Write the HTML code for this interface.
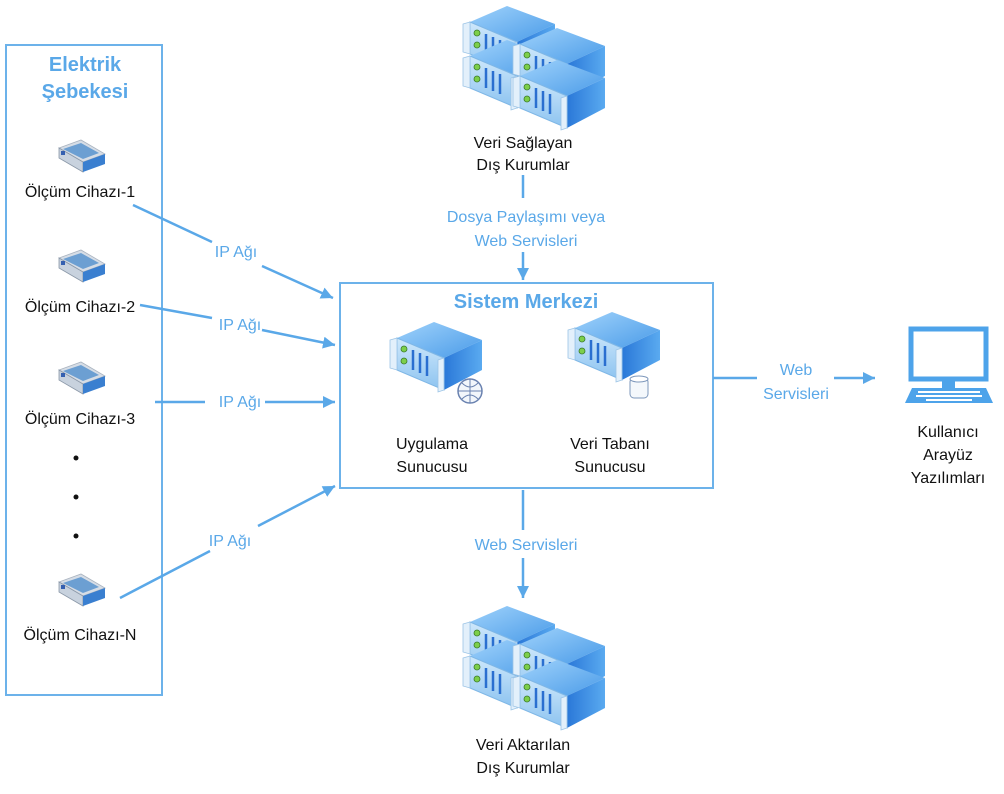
<!DOCTYPE html>
<html><head><meta charset="utf-8"><style>
body{margin:0;background:#fff}
svg text{font-family:"Liberation Sans",sans-serif}
</style></head><body>
<svg width="1004" height="789" viewBox="0 0 1004 789" xmlns="http://www.w3.org/2000/svg">
<defs>
<linearGradient id="tp" x1="0" y1="0" x2="1" y2="1"><stop offset="0" stop-color="#9fd2fb"/><stop offset="1" stop-color="#4a9be8"/></linearGradient>
<linearGradient id="sd" x1="0" y1="0" x2="1" y2="0"><stop offset="0" stop-color="#2a78d8"/><stop offset="1" stop-color="#5aaaf0"/></linearGradient>
<linearGradient id="fr" x1="0" y1="0" x2="0" y2="1"><stop offset="0" stop-color="#cfe8fb"/><stop offset="1" stop-color="#8cc3f0"/></linearGradient>
<g id="srv">
<polygon points="15,20 52,4 100,22 62,40" fill="url(#tp)"/>
<polygon points="62,40 100,22 100,52 62,72" fill="url(#sd)"/>
<polygon points="15,20 62,40 62,72 15,52" fill="url(#fr)" stroke="#7fb7e6" stroke-width="1"/>
<polygon points="8,22 15,20 15,52 8,50" fill="#e3f0fb" stroke="#9cc4e6" stroke-width="0.8"/>
<polygon points="56,42 62,40 62,72 56,74" fill="#e3f0fb" stroke="#9cc4e6" stroke-width="0.8"/>
<circle cx="22" cy="31" r="3" fill="#7ccf4a" stroke="#3a7a2a" stroke-width="0.8"/>
<circle cx="22" cy="43" r="3" fill="#7ccf4a" stroke="#3a7a2a" stroke-width="0.8"/>
<line x1="31" y1="32" x2="31" y2="52" stroke="#2a6fd0" stroke-width="2.5"/>
<line x1="38" y1="35" x2="38" y2="55" stroke="#2a6fd0" stroke-width="2.5"/>
<line x1="45" y1="38" x2="45" y2="58" stroke="#2a6fd0" stroke-width="2.5"/>
</g>
<g id="dev">
<polygon points="4,8 26,0 50,14 28,22" fill="#d6dde6" stroke="#aab4c0" stroke-width="0.8"/>
<polygon points="4,8 28,22 28,32 4,18" fill="#c8d2de" stroke="#8b98a8" stroke-width="0.8"/>
<polygon points="28,22 50,14 50,24 28,32" fill="#3a7fd0"/>
<polygon points="8,9 26,3 44,13 28,19" fill="#6c9fd2"/>
<rect x="6" y="11" width="4" height="4" fill="#3560b0"/>
</g>
<marker id="ar" markerWidth="12" markerHeight="12" refX="10" refY="5" orient="auto" markerUnits="userSpaceOnUse" viewBox="0 0 10 10"><path d="M0,0 L10,5 L0,10 z" fill="#5aa8e8"/></marker>
</defs>
<g fill="none" stroke="#6cb2ea" stroke-width="2">
<rect x="6" y="45" width="156" height="650"/>
<rect x="340" y="283" width="373" height="205"/>
</g>
<g stroke="#5aa8e8" stroke-width="2.5" fill="none">
<line x1="133" y1="205" x2="212" y2="242"/>
<line x1="140" y1="305" x2="212" y2="318"/>
<line x1="155" y1="402" x2="205" y2="402"/>
<line x1="120" y1="598" x2="210" y2="551"/>
<line x1="523" y1="175" x2="523" y2="198"/>
<line x1="523" y1="490" x2="523" y2="530"/>
<line x1="713" y1="378" x2="757" y2="378"/>
</g>
<g stroke="#5aa8e8" stroke-width="2.5" fill="none" marker-end="url(#ar)">
<line x1="262" y1="266" x2="333" y2="298"/>
<line x1="262" y1="330" x2="335" y2="345"/>
<line x1="265" y1="402" x2="335" y2="402"/>
<line x1="258" y1="526" x2="335" y2="486"/>
<line x1="523" y1="252" x2="523" y2="280"/>
<line x1="523" y1="558" x2="523" y2="598"/>
<line x1="834" y1="378" x2="875" y2="378"/>
</g>
<use href="#srv" transform="translate(455,2)"/>
<use href="#srv" transform="translate(455,36)"/>
<use href="#srv" transform="translate(505,24)"/>
<use href="#srv" transform="translate(505,56)"/>
<use href="#srv" transform="translate(455,602)"/>
<use href="#srv" transform="translate(455,636)"/>
<use href="#srv" transform="translate(505,624)"/>
<use href="#srv" transform="translate(505,656)"/>
<use href="#srv" transform="translate(382,318)"/>
<use href="#srv" transform="translate(560,308)"/>
<circle cx="470" cy="391" r="12" fill="#f2f6fb" stroke="#6a82b0" stroke-width="1.5"/>
<path d="M458,391 h24 M470,379 v24 M462,383 q8,8 16,0 M462,399 q8,-8 16,0" stroke="#6a82b0" fill="none"/>
<rect x="630" y="378" width="18" height="20" rx="4" fill="#f4f8fc" stroke="#7d97bb"/>
<ellipse cx="639" cy="379" rx="9" ry="3" fill="#fff" stroke="#7d97bb"/>
<use href="#dev" transform="translate(55,140)"/>
<use href="#dev" transform="translate(55,250)"/>
<use href="#dev" transform="translate(55,362)"/>
<use href="#dev" transform="translate(55,574)"/>
<rect x="911" y="329" width="75" height="50" fill="#fff" stroke="#4da3ea" stroke-width="5"/>
<rect x="942" y="381" width="13" height="7" fill="#4da3ea"/>
<polygon points="912,388 986,388 993,403 905,403" fill="#4da3ea"/>
<g fill="#fff"><rect x="918" y="391" width="62" height="2"/><rect x="916" y="395" width="66" height="2"/><rect x="926" y="399" width="46" height="2"/></g>
<g fill="#111"><circle cx="76" cy="458" r="2.5"/><circle cx="76" cy="497" r="2.5"/><circle cx="76" cy="536" r="2.5"/></g>
<g font-size="16" fill="#111" text-anchor="middle">
<text x="80" y="197">Ölçüm Cihazı-1</text>
<text x="80" y="312">Ölçüm Cihazı-2</text>
<text x="80" y="424">Ölçüm Cihazı-3</text>
<text x="80" y="640">Ölçüm Cihazı-N</text>
<text x="523" y="148">Veri Sağlayan</text>
<text x="523" y="170">Dış Kurumlar</text>
<text x="432" y="449">Uygulama</text>
<text x="432" y="472">Sunucusu</text>
<text x="610" y="449">Veri Tabanı</text>
<text x="610" y="472">Sunucusu</text>
<text x="523" y="750">Veri Aktarılan</text>
<text x="523" y="773">Dış Kurumlar</text>
<text x="948" y="437">Kullanıcı</text>
<text x="948" y="460">Arayüz</text>
<text x="948" y="483">Yazılımları</text>
</g>
<g font-size="16" fill="#5aa8e8" text-anchor="middle">
<text x="236" y="257">IP Ağı</text>
<text x="240" y="330">IP Ağı</text>
<text x="240" y="407">IP Ağı</text>
<text x="230" y="546">IP Ağı</text>
<text x="526" y="222">Dosya Paylaşımı veya</text>
<text x="526" y="246">Web Servisleri</text>
<text x="526" y="550">Web Servisleri</text>
<text x="796" y="375">Web</text>
<text x="796" y="399">Servisleri</text>
</g>
<g font-size="20" font-weight="bold" fill="#5aa8e8" text-anchor="middle">
<text x="85" y="71">Elektrik</text>
<text x="85" y="98">Şebekesi</text>
<text x="526" y="308">Sistem Merkezi</text>
</g>
</svg>
</body></html>
